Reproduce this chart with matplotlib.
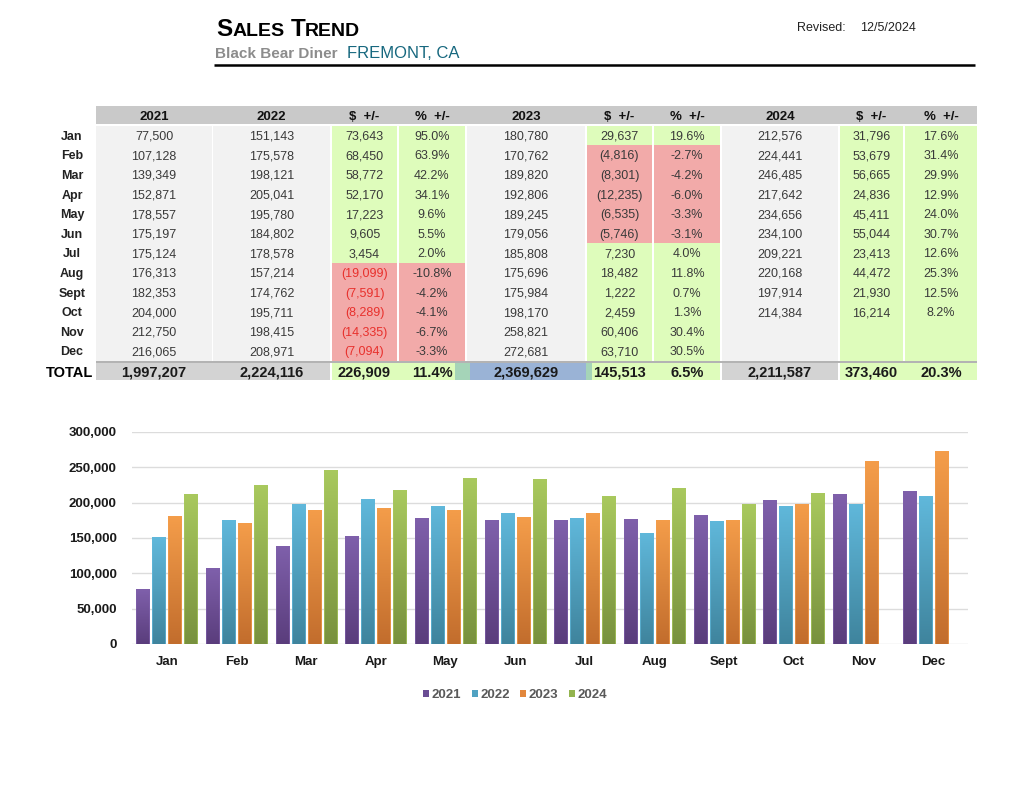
import numpy as np
import matplotlib
matplotlib.use("Agg")
import matplotlib.pyplot as plt
from matplotlib import font_manager as fm
from matplotlib.patches import Rectangle, Patch
from matplotlib.colors import LinearSegmentedColormap
from matplotlib.ticker import FuncFormatter

# ---- data ----
months = ['Jan', 'Feb', 'Mar', 'Apr', 'May', 'Jun', 'Jul', 'Aug', 'Sept', 'Oct', 'Nov', 'Dec']
years = ['2021', '2022', '2023', '2024']

s2021 = [77500, 107128, 139349, 152871, 178557, 175197, 175124, 176313, 182353, 204000, 212750, 216065]
s2022 = [151143, 175578, 198121, 205041, 195780, 184802, 178578, 157214, 174762, 195711, 198415, 208971]
d2022 = [73643, 68450, 58772, 52170, 17223, 9605, 3454, -19099, -7591, -8289, -14335, -7094]
p2022 = [95.0, 63.9, 42.2, 34.1, 9.6, 5.5, 2.0, -10.8, -4.2, -4.1, -6.7, -3.3]
s2023 = [180780, 170762, 189820, 192806, 189245, 179056, 185808, 175696, 175984, 198170, 258821, 272681]
d2023 = [29637, -4816, -8301, -12235, -6535, -5746, 7230, 18482, 1222, 2459, 60406, 63710]
p2023 = [19.6, -2.7, -4.2, -6.0, -3.3, -3.1, 4.0, 11.8, 0.7, 1.3, 30.4, 30.5]
s2024 = [212576, 224441, 246485, 217642, 234656, 234100, 209221, 220168, 197914, 214384, None, None]
d2024 = [31796, 53679, 56665, 24836, 45411, 55044, 23413, 44472, 21930, 16214, None, None]
p2024 = [17.6, 31.4, 29.9, 12.9, 24.0, 30.7, 12.6, 25.3, 12.5, 8.2, None, None]

header_labels = ['2021', '2022', '$  +/-', '%  +/-', '2023', '$  +/-', '%  +/-', '2024', '$  +/-', '%  +/-']
totals = ['1,997,207', '2,224,116', '226,909', '11.4%', '2,369,629', '145,513', '6.5%',
          '2,211,587', '373,460', '20.3%']
yticks = [0, 50000, 100000, 150000, 200000, 250000, 300000]

# ---- fonts ----
names = {f.name for f in fm.fontManager.ttflist}
NARROW = 'Liberation Sans Narrow' if 'Liberation Sans Narrow' in names else 'Liberation Sans'
plt.rcParams['font.family'] = ['Liberation Sans', 'DejaVu Sans']

fig = plt.figure(figsize=(10.24, 7.91), dpi=100)

# full page overlay in pixel units for header + table
axT = fig.add_axes([0, 0, 1, 1])
axT.set_xlim(0, 1024)
axT.set_ylim(791, 0)
axT.axis('off')

renderer = fig.canvas.get_renderer()


def small_caps(x, y, words, big, small):
    for w in words:
        for s, fs in ((w[0], big), (w[1:], small)):
            t = axT.text(x, y, s, fontsize=fs, fontweight='bold',
                         va='baseline', ha='left', color='black')
            x += t.get_window_extent(renderer).width
        x += 6


small_caps(216, 35.5, ['SALES', 'TREND'], 17.5, 14)
axT.text(797, 31, 'Revised:', fontsize=9, family=NARROW, va='baseline', color='#222222')
axT.text(860, 31, '12/5/2024', fontsize=9, family=NARROW, va='baseline', color='#222222')
axT.text(215, 58.5, 'Black Bear Diner', fontsize=11, fontweight='bold',
         va='baseline', color='#8c8c8c')
axT.text(347, 58, 'FREMONT, CA', fontsize=12, va='baseline', color='#17687f')
axT.plot([214, 975], [64.5, 64.5], color='black', lw=1.8, solid_capstyle='butt')

# column edges in pixels
cols = [(96, 212), (213, 330), (332, 397), (399, 465), (467, 585), (587, 652),
        (654, 720), (722, 838), (840, 903), (905, 977)]
cx = [(a + b) / 2 for a, b in cols]

GRAY = '#f2f2f2'
GREEN = '#defcbb'
PINK = '#f2aaa9'
TXT = '#3a3a3a'

# header band
axT.add_patch(Rectangle((96, 106), 977 - 96, 18, facecolor='#c9c9c9', edgecolor='none'))
for x, lab in zip(cx, header_labels):
    axT.text(x, 119.5, lab, ha='center', va='baseline', fontsize=9.5, fontweight='bold', color='#111111')

top, rh = 125.5, 19.6
n = len(months)


def fmt_int(v):
    return f'({abs(v):,})' if v < 0 else f'{v:,}'


blocks = [
    (0, s2021, None, None, False),
    (1, s2022, d2022, p2022, True),
    (4, s2023, d2023, p2023, False),
    (7, s2024, d2024, p2024, False),
]

for c, vals, dv, pv, red in blocks:
    a, b = cols[c]
    axT.add_patch(Rectangle((a, top), b - a, n * rh, facecolor=GRAY, edgecolor='none'))
    if dv is None:
        continue
    # merge consecutive rows of the same sign into one rectangle
    neg = [v is not None and v < 0 for v in dv]
    start = 0
    for i in range(1, n + 1):
        if i == n or neg[i] != neg[start]:
            fc = PINK if neg[start] else GREEN
            for k in (1, 2):
                a, b = cols[c + k]
                axT.add_patch(Rectangle((a, top + start * rh), b - a, (i - start) * rh,
                                        facecolor=fc, edgecolor='none'))
            start = i

for i, m in enumerate(months):
    yb = top + i * rh + rh / 2 + 4.5
    axT.text(72, yb, m, ha='center', va='baseline', fontsize=9, fontweight='bold', color='#222222')
    for c, vals, dv, pv, red in blocks:
        if vals[i] is not None:
            axT.text(cx[c], yb, f'{vals[i]:,}', ha='center', va='baseline', fontsize=9, color=TXT)
        if dv is None or dv[i] is None:
            continue
        neg = dv[i] < 0
        axT.text(cx[c + 1], yb, fmt_int(dv[i]), ha='center', va='baseline', fontsize=9,
                 color='#e8302c' if (neg and red) else TXT)
        axT.text(cx[c + 2], yb, f'{pv[i]:.1f}%', ha='center', va='baseline', fontsize=9, color=TXT)

# total row
bot = top + n * rh
axT.add_patch(Rectangle((96, bot), 977 - 96, 2.2, facecolor='#b3b3b3', edgecolor='none'))
ty0, th = bot + 2.2, 17.5
axT.add_patch(Rectangle((96, ty0), 330 - 96, th, facecolor='#d3d3d3', edgecolor='none'))
axT.add_patch(Rectangle((332, ty0), 470 - 332, th, facecolor=GREEN, edgecolor='none'))
axT.add_patch(Rectangle((455, ty0), 15, th, facecolor='#a5d4b8', edgecolor='none'))
axT.add_patch(Rectangle((470, ty0), 116, th, facecolor='#9ab3d6', edgecolor='none'))
axT.add_patch(Rectangle((586, ty0), 6, th, facecolor='#a5d4b8', edgecolor='none'))
axT.add_patch(Rectangle((592, ty0), 720 - 592, th, facecolor=GREEN, edgecolor='none'))
axT.add_patch(Rectangle((722, ty0), 838 - 722, th, facecolor='#d3d3d3', edgecolor='none'))
axT.add_patch(Rectangle((840, ty0), 977 - 840, th, facecolor=GREEN, edgecolor='none'))
tyb = ty0 + th / 2 + 5
axT.text(70, tyb, 'TOTAL', ha='center', va='baseline', fontsize=10.5, fontweight='bold', color='black')
for x, s in zip(cx, totals):
    axT.text(x, tyb, s, ha='center', va='baseline', fontsize=10.5, fontweight='bold', color='#1a1a1a')

# ---- bar chart ----
ax = fig.add_axes([132 / 1024, 1 - 644 / 791, (968 - 132) / 1024, (644 - 432) / 791])
series = [s2021, s2022, s2023, s2024]
tops = ['#7f60ab', '#60b8db', '#f49d4a', '#a9c95e']
bots = ['#5a3d7c', '#3f849d', '#c26d2d', '#78913e']
x = np.arange(n)
width = 0.19
grad = np.linspace(0, 1, 128).reshape(-1, 1)

for k, vals in enumerate(series):
    idx = [i for i, v in enumerate(vals) if v is not None]
    h = [vals[i] for i in idx]
    bars = ax.bar(x[idx] + (k - 1.5) * 0.23, h, width, facecolor='none',
                  edgecolor=tops[k], lw=0.5, zorder=4)
    cmap = LinearSegmentedColormap.from_list(f'g{k}', [bots[k], tops[k]])
    for r in bars:
        im = ax.imshow(grad, extent=[r.get_x(), r.get_x() + r.get_width(), 0, r.get_height()],
                       origin='lower', aspect='auto', cmap=cmap, zorder=3, interpolation='bilinear')
        im.set_clip_path(r)

ax.set_xlim(-0.5, 11.5)
ax.set_ylim(0, 300000)
ax.set_yticks(yticks)
ax.yaxis.set_major_formatter(FuncFormatter(lambda v, p: f'{int(v):,}'))
ax.set_xticks(x)
ax.set_xticklabels(months)
ax.tick_params(axis='y', length=0, pad=11, labelsize=9.5, labelcolor='#1a1a1a')
ax.tick_params(axis='x', length=0, pad=8.5, labelsize=9.5, labelcolor='#1a1a1a')
for lbl in ax.get_xticklabels() + ax.get_yticklabels():
    lbl.set_fontweight('bold')
ax.yaxis.grid(True, color='#dcdcdc', lw=1.0)
ax.set_axisbelow(True)
for sp in ax.spines.values():
    sp.set_visible(False)
ax.set_facecolor('none')

handles = [Patch(facecolor=c) for c in ['#6a4d94', '#50a2c2', '#e2873c', '#93b44f']]
leg = fig.legend(handles, years, loc='center', bbox_to_anchor=(0.503, 0.121), ncol=4,
                 frameon=False, handlelength=0.45, handleheight=0.45, handletextpad=0.2,
                 columnspacing=0.8, prop={'weight': 'bold', 'size': 9.5})
for tx in leg.get_texts():
    tx.set_color('#595959')

fig.savefig('out.png', dpi=100)
